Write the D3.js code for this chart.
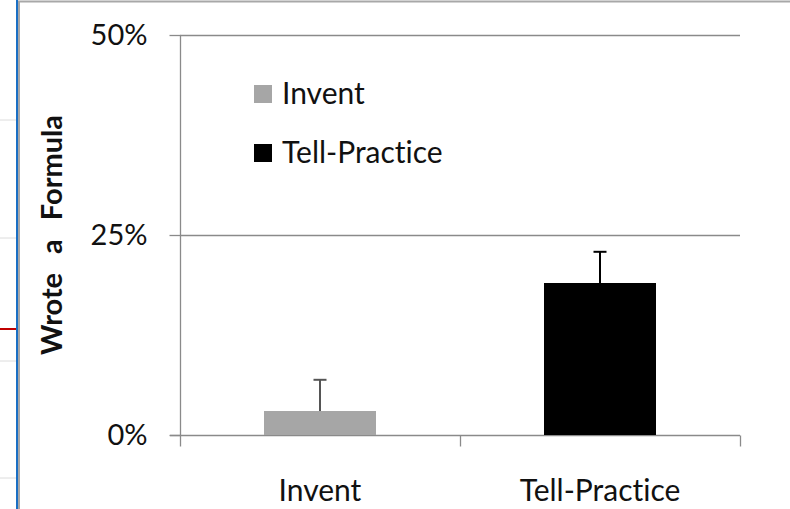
<!DOCTYPE html>
<html>
<head>
<meta charset="utf-8">
<script src="https://cdn.jsdelivr.net/npm/d3@7"></script>
<style>
  html, body { margin: 0; padding: 0; background: #fff; }
  svg { display: block; }
  text { font-family: Lato, "Open Sans", sans-serif; fill: #111; font-variant-ligatures: none; }
</style>
</head>
<body>
<svg id="chart" width="790" height="509"></svg>
<script>
const categories = ["Invent", "Tell-Practice"];
const values = [0.03, 0.19];
const errors = [0.039, 0.039];
const yTicks = [0, 0.25, 0.5];
const legendLabels = ["Invent", "Tell-Practice"];
const colors = ["#a6a6a6", "#000000"];
const errColors = ["#555555", "#000000"];
const yTitle = "Wrote a Formula";

const svg = d3.select("#chart");
const W = 790, H = 509;

// page decorations (left strip / frame)
const deco = svg.append("g");
[120, 238, 361, 478].forEach(y => deco.append("line").attr("x1", 0).attr("x2", 16).attr("y1", y).attr("y2", y).attr("stroke", "#dcdcdc").attr("stroke-width", 1));
deco.append("line").attr("x1", 0).attr("x2", 16).attr("y1", 329).attr("y2", 329).attr("stroke", "#c00000").attr("stroke-width", 2);
deco.append("line").attr("x1", 17).attr("x2", 17).attr("y1", 0).attr("y2", H).attr("stroke", "#1a6fc4").attr("stroke-width", 2);
deco.append("line").attr("x1", 19).attr("x2", 19).attr("y1", 1).attr("y2", H).attr("stroke", "#a8a8a8").attr("stroke-width", 2);
deco.append("line").attr("x1", 18).attr("x2", W).attr("y1", 1.5).attr("y2", 1.5).attr("stroke", "#a8a8a8").attr("stroke-width", 2);

const x = d3.scaleBand().domain(categories).range([180, 740]).paddingInner(0.6).paddingOuter(0.3);
const y = d3.scaleLinear().domain([0, 0.5]).range([435, 35]);

const axisColor = "#8a8a8a";
const textColor = "#1a1a1a";

// gridlines
svg.append("g").selectAll("line").data(yTicks.filter(d => d > 0)).join("line")
  .attr("x1", 180).attr("x2", 740)
  .attr("y1", d => Math.round(y(d)) + 0.5).attr("y2", d => Math.round(y(d)) + 0.5)
  .attr("stroke", axisColor).attr("stroke-width", 1.3);

// y axis
const yAxis = svg.append("g").attr("transform", "translate(180.5,0)")
  .call(d3.axisLeft(y).tickValues(yTicks).tickFormat(d3.format(".0%")).tickSize(11).tickPadding(22));
yAxis.select(".domain").attr("stroke", axisColor).attr("stroke-width", 1.3).attr("d", `M0,${y(0.5)}V${y(0)}`);
yAxis.selectAll(".tick line").attr("stroke", axisColor).attr("stroke-width", 1.3);
yAxis.selectAll(".tick text").attr("font-size", 29).attr("fill", textColor).attr("font-family", "Lato, sans-serif");

// x axis
const xAxisG = svg.append("g").attr("transform", "translate(0,435.5)");
xAxisG.append("line").attr("x1", 170).attr("x2", 740).attr("y1", 0).attr("y2", 0).attr("stroke", axisColor).attr("stroke-width", 1.3);
const step = x.step();
const first = x(categories[0]) - x.paddingOuter() * step;
const boundaries = d3.range(categories.length + 1).map(i => first + i * step);
xAxisG.selectAll("line.xt").data(boundaries).join("line").attr("class", "xt")
  .attr("x1", d => Math.round(d) + 0.5).attr("x2", d => Math.round(d) + 0.5)
  .attr("y1", 0).attr("y2", 11).attr("stroke", axisColor).attr("stroke-width", 1.3);
xAxisG.selectAll("text").data(categories).join("text")
  .attr("x", d => x(d) + x.bandwidth() / 2).attr("y", 65)
  .attr("text-anchor", "middle").attr("font-size", 30).attr("fill", textColor)
  .text(d => d);

// bars
svg.append("g").selectAll("rect").data(categories).join("rect")
  .attr("x", d => x(d)).attr("width", x.bandwidth())
  .attr("y", (d, i) => y(values[i])).attr("height", (d, i) => y(0) - y(values[i]))
  .attr("fill", (d, i) => colors[i]);

// error bars
const eb = svg.append("g");
categories.forEach((c, i) => {
  const cx = x(c) + x.bandwidth() / 2;
  eb.append("line").attr("x1", cx).attr("x2", cx).attr("y1", y(values[i])).attr("y2", y(values[i] + errors[i]))
    .attr("stroke", errColors[i]).attr("stroke-width", 2);
  eb.append("line").attr("x1", cx - 6.5).attr("x2", cx + 6.5).attr("y1", y(values[i] + errors[i])).attr("y2", y(values[i] + errors[i]))
    .attr("stroke", errColors[i]).attr("stroke-width", 2);
});

// legend
const leg = svg.append("g");
legendLabels.forEach((l, i) => {
  const g = leg.append("g").attr("transform", `translate(254,${85 + i * 59})`);
  g.append("rect").attr("width", 18).attr("height", 18).attr("fill", colors[i]);
  g.append("text").attr("x", 28).attr("y", 18.5).attr("font-size", 30).attr("fill", textColor).text(l);
});

// y title
svg.append("text")
  .attr("transform", "translate(62,235) rotate(-90)")
  .attr("text-anchor", "middle").attr("font-size", 29).attr("font-weight", "bold")
  .attr("word-spacing", 12).attr("fill", "#111")
  .text(yTitle);
</script>
</body>
</html>
